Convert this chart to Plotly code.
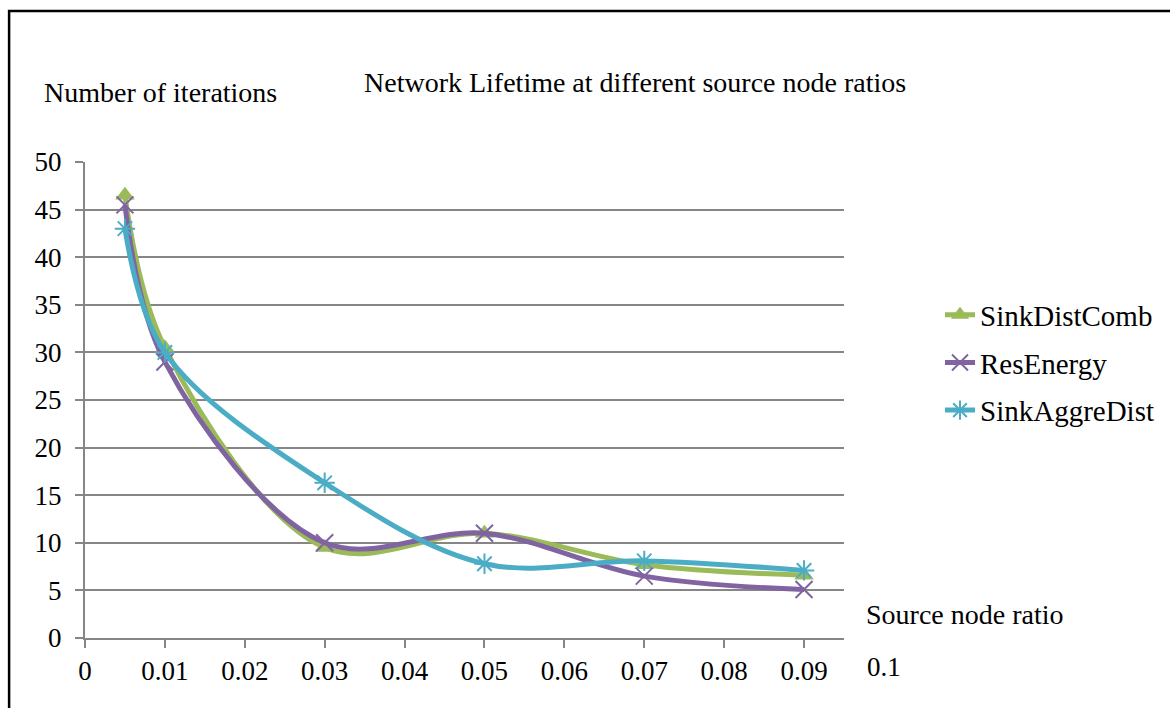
import plotly.graph_objects as go

# Source node ratio (x) and network lifetime in iterations (y) for each strategy
ratios = [0.005, 0.01, 0.03, 0.05, 0.07, 0.09]
sink_dist_comb = [46.5, 30.5, 9.5, 11.0, 7.7, 6.6]
res_energy = [45.5, 29.0, 10.0, 11.0, 6.5, 5.1]
sink_aggre_dist = [43.0, 30.0, 16.3, 7.8, 8.1, 7.1]

x_ticks = [0, 0.01, 0.02, 0.03, 0.04, 0.05, 0.06, 0.07, 0.08, 0.09]
x_tick_text = ["0", "0.01", "0.02", "0.03", "0.04", "0.05", "0.06", "0.07", "0.08", "0.09"]
x_extra_tick = 0.1
y_ticks = [0, 5, 10, 15, 20, 25, 30, 35, 40, 45, 50]

X_MAX = 0.095
FONT = "Times New Roman, Liberation Serif, serif"
GRID = "#868686"

series = [
    ("SinkDistComb", sink_dist_comb, "#9BBB59", "triangle-up", 17, 0),
    ("ResEnergy", res_energy, "#8064A2", "x-thin-open", 17, 2),
    ("SinkAggreDist", sink_aggre_dist, "#4BACC6", "asterisk-open", 17, 2),
]

fig = go.Figure()
for i, (name, vals, color, sym, size, mlw) in enumerate(series):
    fig.add_trace(go.Scatter(
        x=ratios, y=vals, name=name, mode="lines+markers",
        line=dict(color=color, width=5, shape="spline", smoothing=1),
        marker=dict(symbol=sym, size=size, color=color,
                    line=dict(color=color, width=mlw)),
        legendgroup=f"g{i}",
    ))

fig.update_layout(
    width=1170, height=708,
    margin=dict(l=85, r=325, t=162, b=70),
    paper_bgcolor="white", plot_bgcolor="white",
    font=dict(family=FONT, size=27, color="black"),
    showlegend=True,
    legend=dict(x=1.125, y=0.578, xanchor="left", yanchor="middle",
                font=dict(family=FONT, size=29), tracegroupgap=7,
                bgcolor="rgba(0,0,0,0)"),
    xaxis=dict(range=[0, X_MAX], tickvals=x_ticks, ticktext=x_tick_text,
               showgrid=False, zeroline=False, showline=True,
               linecolor=GRID, linewidth=2, ticks="outside", ticklen=8,
               tickcolor=GRID, tickwidth=2,
               tickfont=dict(family=FONT, size=27)),
    yaxis=dict(range=[0, 50], tickvals=y_ticks, showgrid=True,
               gridcolor=GRID, gridwidth=1.5, zeroline=False,
               showline=True, linecolor=GRID, linewidth=2,
               ticks="outside", ticklen=8, tickcolor=GRID, tickwidth=2,
               ticklabelstandoff=8,
               tickfont=dict(family=FONT, size=27)),
    annotations=[
        dict(text="Network Lifetime at different source node ratios",
             xref="paper", yref="paper", x=0.725, y=1.166,
             xanchor="center", yanchor="middle", showarrow=False,
             font=dict(family=FONT, size=28)),
        dict(text="Number of iterations", xref="paper", yref="paper",
             x=-0.057, y=1.145, xanchor="left", yanchor="middle",
             showarrow=False, font=dict(family=FONT, size=28)),
        dict(text="Source node ratio", xref="paper", yref="paper",
             x=1.027, y=0.05, xanchor="left", yanchor="middle",
             showarrow=False, font=dict(family=FONT, size=28)),
        dict(text="0.1", xref="x domain", yref="paper",
             x=x_extra_tick / X_MAX, y=-0.061, xanchor="center",
             yanchor="middle", showarrow=False,
             font=dict(family=FONT, size=27)),
    ],
    shapes=[
        dict(type="rect", xref="paper", yref="paper",
             x0=-0.1, x1=1.44, y0=-0.2, y1=1.317,
             line=dict(color="black", width=2.5), fillcolor="rgba(0,0,0,0)"),
    ],
)

fig.write_html("out.html")
